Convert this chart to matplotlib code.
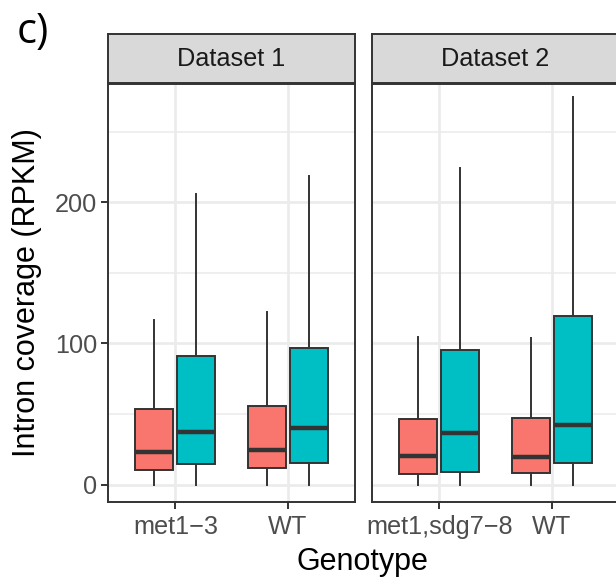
import matplotlib
matplotlib.use("Agg")
import matplotlib.pyplot as plt

plt.rcParams['font.family'] = ['Liberation Sans', 'DejaVu Sans']

# ---- data ----
panels = ["Dataset 1", "Dataset 2"]
genotypes = [["met1\u22123", "WT"], ["met1,sdg7\u22128", "WT"]]
groups = ["A", "B"]
fill_colors = ["#F8766D", "#00BFC4"]

# per panel, per genotype, per group: (lower whisker, q1, median, q3, upper whisker)
whislo = [[[0, 0], [0, 0]], [[0, 0], [0, 0]]]
q1 = [[[10.4, 14.9], [11.6, 15.6]], [[7.4, 9.0], [8.3, 15.4]]]
med = [[[23.4, 37.3], [24.8, 39.9]], [[20.1, 36.4], [19.6, 42.3]]]
q3 = [[[53.4, 91.1], [55.7, 96.6]], [[46.5, 95.2], [47.0, 119.3]]]
whishi = [[[116.4, 205.7], [122.5, 218.8]], [[104.8, 224.0], [103.7, 274.8]]]

y_ticks = [0, 100, 200]
y_minor = [50, 150, 250]
y_lim = (-12.5, 284.1)

W, H = 616, 584
fig = plt.figure(figsize=(W / 100, H / 100), dpi=100)

def fx(px):
    return px / W

def fy(py):
    return 1 - py / H

panel_left = [108, 372]
panel_w = 247
top, bottom = 83.5, 502.3
strip_top = 34.3
dark = "#333333"
grid_c = "#EBEBEB"
tick_fs = 18.2

for p in range(2):
    ax = fig.add_axes([fx(panel_left[p]), fy(bottom), fx(panel_w), (bottom - top) / H])
    ax.set_facecolor("white")
    ax.set_xlim(-0.6, 1.6)
    ax.set_ylim(*y_lim)
    # grid
    for yv in y_ticks:
        ax.axhline(yv, color=grid_c, lw=1.9, zorder=0)
    for yv in y_minor:
        ax.axhline(yv, color=grid_c, lw=1.1, zorder=0)
    for xv in range(len(genotypes[p])):
        ax.axvline(xv, color=grid_c, lw=1.9, zorder=0)
    stats, positions, colors = [], [], []
    for g in range(len(genotypes[p])):
        for k in range(len(groups)):
            stats.append(dict(whislo=whislo[p][g][k], q1=q1[p][g][k], med=med[p][g][k],
                              q3=q3[p][g][k], whishi=whishi[p][g][k], fliers=[]))
            positions.append(g + (k - 0.5) * 0.375)
            colors.append(fill_colors[k])
    bp = ax.bxp(stats, positions=positions, widths=0.3375, patch_artist=True,
                showfliers=False, showcaps=False,
                boxprops=dict(edgecolor=dark, linewidth=1.4),
                whiskerprops=dict(color=dark, linewidth=1.4),
                medianprops=dict(color=dark, linewidth=3.2, solid_capstyle='butt'),
                manage_ticks=False)
    for patch, c in zip(bp['boxes'], colors):
        patch.set_facecolor(c)
        patch.set_zorder(2)
    for ln in bp['whiskers']:
        ln.set_zorder(1.5)
    for ln in bp['medians']:
        ln.set_zorder(3)
    ax.set_xticks(range(len(genotypes[p])))
    ax.set_xticklabels(genotypes[p])
    ax.tick_params(axis='x', length=5, width=1.4, color=dark, labelsize=tick_fs,
                   labelcolor="#4D4D4D", pad=4.5)
    if p == 0:
        ax.set_yticks(y_ticks)
        ax.tick_params(axis='y', length=5, width=1.4, color=dark, labelsize=tick_fs,
                       labelcolor="#4D4D4D", pad=3)
    else:
        ax.set_yticks([])
    for s in ax.spines.values():
        s.set_color(dark)
        s.set_linewidth(1.4)
        s.set_zorder(5)
    # strip
    sax = fig.add_axes([fx(panel_left[p]), fy(top), fx(panel_w), (top - strip_top) / H])
    sax.set_facecolor("#D9D9D9")
    sax.set_xticks([])
    sax.set_yticks([])
    for s in sax.spines.values():
        s.set_color(dark)
        s.set_linewidth(1.4)
    sax.text(0.5, 0.5, panels[p], transform=sax.transAxes, ha='center', va='center',
             fontsize=tick_fs, color="#1A1A1A")

fig.text(fx(362.5), fy(570), "Genotype", ha='center', va='baseline', fontsize=22, color='black')
fig.text(fx(27), fy((top + bottom) / 2), "Intron coverage (RPKM)", ha='center', va='center',
         rotation=90, fontsize=22, color='black')
fig.text(fx(17), fy(43), "c)", ha='left', va='baseline', fontsize=30,
         family=['Open Sans', 'DejaVu Sans'], color='black')

fig.savefig("out.png", dpi=100, facecolor="white")
